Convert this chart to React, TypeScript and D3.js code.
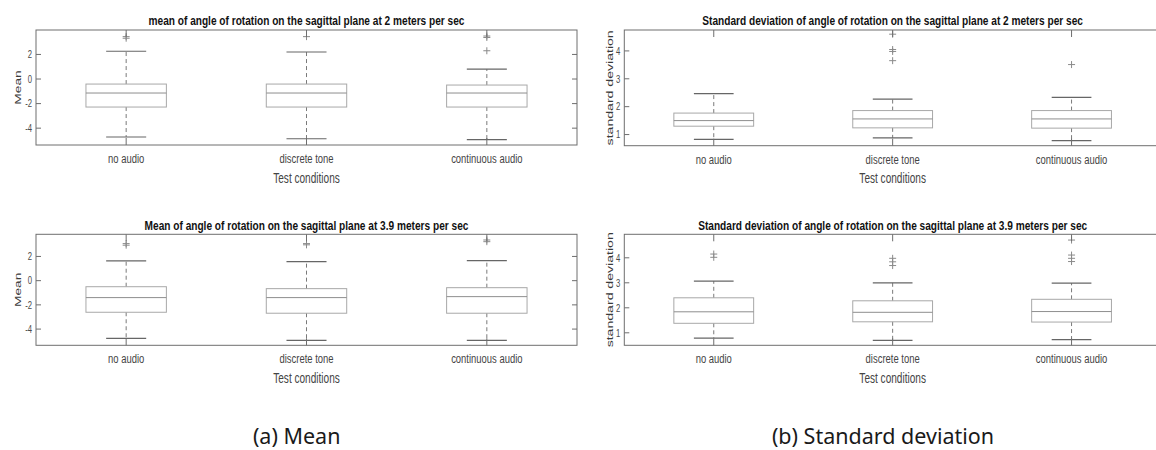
import React from "react";
import * as d3 from "d3";

const categories = ["no audio", "discrete tone", "continuous audio"];

// mean, 2 m/s
const mean2Lo = [-4.72, -4.86, -4.94];
const mean2Q1 = [-2.28, -2.28, -2.28];
const mean2Med = [-1.14, -1.14, -1.14];
const mean2Q3 = [-0.41, -0.41, -0.49];
const mean2Hi = [2.26, 2.2, 0.81];
const mean2Out = [[3.45, 3.32], [3.45], [3.5, 3.38, 2.3]];

// mean, 3.9 m/s
const mean39Lo = [-4.76, -4.93, -4.93];
const mean39Q1 = [-2.61, -2.69, -2.69];
const mean39Med = [-1.4, -1.4, -1.32];
const mean39Q3 = [-0.5, -0.66, -0.58];
const mean39Hi = [1.63, 1.57, 1.65];
const mean39Out = [[3.06, 2.93], [3.06, 2.96], [3.36, 3.22]];

// sd, 2 m/s
const sd2Lo = [0.83, 0.88, 0.78];
const sd2Q1 = [1.3, 1.24, 1.23];
const sd2Med = [1.5, 1.56, 1.56];
const sd2Q3 = [1.77, 1.86, 1.86];
const sd2Hi = [2.47, 2.27, 2.33];
const sd2Out = [[], [4.6, 4.05, 3.98, 3.65], [3.51]];

// sd, 3.9 m/s
const sd39Lo = [0.79, 0.7, 0.73];
const sd39Q1 = [1.38, 1.44, 1.43];
const sd39Med = [1.84, 1.82, 1.85];
const sd39Q3 = [2.4, 2.28, 2.34];
const sd39Hi = [3.07, 3.0, 2.99];
const sd39Out = [[4.15, 4.02], [3.98, 3.84, 3.69], [4.71, 4.11, 3.98, 3.85]];

const meanTicks = [-4, -2, 0, 2];
const sdTicks = [1, 2, 3, 4];

const SX = 0.7; // the figure was squeezed horizontally
const FONT = "'Liberation Sans', Arial, sans-serif";

function Panel(props) {
  const { left, right, top, bottom, domain, ticks, lo, q1, med, q3, hi, out, title, ylabel, ylabelX, ylabelSize, titleY } = props;
  const x = d3.scalePoint().domain(categories).range([left, right]).padding(0.5);
  const y = d3.scaleLinear().domain(domain).range([bottom, top]);
  const step = x.step();
  const bw = step * 0.223;
  const cw = step * 0.111;
  const cx = (left + right) / 2;
  const cy = (top + bottom) / 2;
  const clipId = "clip" + Math.round(left) + "_" + Math.round(top);

  return (
    <g>
      <defs>
        <clipPath id={clipId}>
          <rect x={left} y={top} width={right - left} height={bottom - top} />
        </clipPath>
      </defs>
      <text
        transform={`translate(${cx},${titleY}) scale(0.75,1)`}
        textAnchor="middle"
        fontFamily={FONT}
        fontWeight="bold"
        fontSize={13.5}
        fill="#111"
      >
        {title}
      </text>
      <text
        transform={`translate(${ylabelX},${cy}) rotate(-90) scale(1,${SX})`}
        textAnchor="middle"
        fontFamily={FONT}
        fontSize={ylabelSize}
        fill="#3a3a3a"
      >
        {ylabel}
      </text>

      <g clipPath={`url(#${clipId})`}>
        {categories.map((c, i) => {
          const px = x(c);
          return (
            <g key={c}>
              <line x1={px} x2={px} y1={y(q3[i])} y2={y(hi[i])} stroke="#7a7a7a" strokeDasharray="4,3" />
              <line x1={px} x2={px} y1={y(q1[i])} y2={y(lo[i])} stroke="#7a7a7a" strokeDasharray="4,3" />
              <line x1={px - cw} x2={px + cw} y1={y(hi[i])} y2={y(hi[i])} stroke="#666" strokeWidth={1.2} />
              <line x1={px - cw} x2={px + cw} y1={y(lo[i])} y2={y(lo[i])} stroke="#666" strokeWidth={1.2} />
              <rect
                x={px - bw}
                y={y(q3[i])}
                width={bw * 2}
                height={y(q1[i]) - y(q3[i])}
                fill="none"
                stroke="#a8a8a8"
              />
              <line x1={px - bw} x2={px + bw} y1={y(med[i])} y2={y(med[i])} stroke="#8e8e8e" />
              {out[i].map((v, j) => (
                <path
                  key={j}
                  d={`M${px - 3.5},${y(v)}h7M${px},${y(v) - 3.5}v7`}
                  stroke="#8a8a8a"
                  fill="none"
                />
              ))}
            </g>
          );
        })}
      </g>

      {/* axes box with inner ticks */}
      <rect x={left} y={top} width={right - left} height={bottom - top} fill="none" stroke="#6e6e6e" />
      {ticks.map((t) => (
        <g key={t}>
          <line x1={left} x2={left + 5} y1={y(t)} y2={y(t)} stroke="#6e6e6e" />
          <line x1={right - 5} x2={right} y1={y(t)} y2={y(t)} stroke="#6e6e6e" />
          <text
            transform={`translate(${left - 4},${y(t) + 3.8}) scale(${SX},1)`}
            textAnchor="end"
            fontFamily={FONT}
            fontSize={11}
            fill="#4a4a4a"
          >
            {t}
          </text>
        </g>
      ))}
      {categories.map((c) => (
        <g key={c}>
          <line x1={x(c)} x2={x(c)} y1={bottom} y2={bottom - 7} stroke="#6e6e6e" />
          <line x1={x(c)} x2={x(c)} y1={top} y2={top + 7} stroke="#6e6e6e" />
          <text
            transform={`translate(${x(c)},${bottom + 18}) scale(${SX},1)`}
            textAnchor="middle"
            fontFamily={FONT}
            fontSize={13.5}
            fill="#444"
          >
            {c}
          </text>
        </g>
      ))}
      <text
        transform={`translate(${cx},${bottom + 37.5}) scale(${SX},1)`}
        textAnchor="middle"
        fontFamily={FONT}
        fontSize={14.4}
        fill="#444"
      >
        Test conditions
      </text>
    </g>
  );
}

export default function App() {
  return (
    <svg
      width={1156}
      height={450}
      style={{ position: "absolute", left: 0, top: 0, background: "#fff" }}
    >
      <Panel
        left={36} right={577} top={30} bottom={145}
        domain={[-5.37, 3.99]} ticks={meanTicks}
        lo={mean2Lo} q1={mean2Q1} med={mean2Med} q3={mean2Q3} hi={mean2Hi} out={mean2Out}
        title="mean of angle of rotation on the sagittal plane at 2 meters per sec"
        titleY={25} ylabel="Mean" ylabelX={20.7} ylabelSize={13.8}
      />
      <Panel
        left={36} right={577} top={234.3} bottom={345.3}
        domain={[-5.34, 3.83]} ticks={meanTicks}
        lo={mean39Lo} q1={mean39Q1} med={mean39Med} q3={mean39Q3} hi={mean39Hi} out={mean39Out}
        title="Mean of angle of rotation on the sagittal plane at 3.9 meters per sec"
        titleY={229.5} ylabel="Mean" ylabelX={20.7} ylabelSize={13.8}
      />
      <Panel
        left={624.3} right={1161} top={30} bottom={145.7}
        domain={[0.6, 4.75]} ticks={sdTicks}
        lo={sd2Lo} q1={sd2Q1} med={sd2Med} q3={sd2Q3} hi={sd2Hi} out={sd2Out}
        title="Standard deviation of angle of rotation on the sagittal plane at 2 meters per sec"
        titleY={25} ylabel="standard deviation" ylabelX={613.3} ylabelSize={14.1}
      />
      <Panel
        left={624.3} right={1161} top={234.3} bottom={345.3}
        domain={[0.5, 4.94]} ticks={sdTicks}
        lo={sd39Lo} q1={sd39Q1} med={sd39Med} q3={sd39Q3} hi={sd39Hi} out={sd39Out}
        title="Standard deviation of angle of rotation on the sagittal plane at 3.9 meters per sec"
        titleY={229.5} ylabel="standard deviation" ylabelX={613.3} ylabelSize={14.1}
      />
      <text x={296.7} y={444} textAnchor="middle" fontFamily="'Noto Sans', sans-serif" fontSize={21.5} fill="#1a1a1a">
        (a) Mean
      </text>
      <text x={883} y={444} textAnchor="middle" fontFamily="'Noto Sans', sans-serif" fontSize={21.5} fill="#1a1a1a">
        (b) Standard deviation
      </text>
    </svg>
  );
}
